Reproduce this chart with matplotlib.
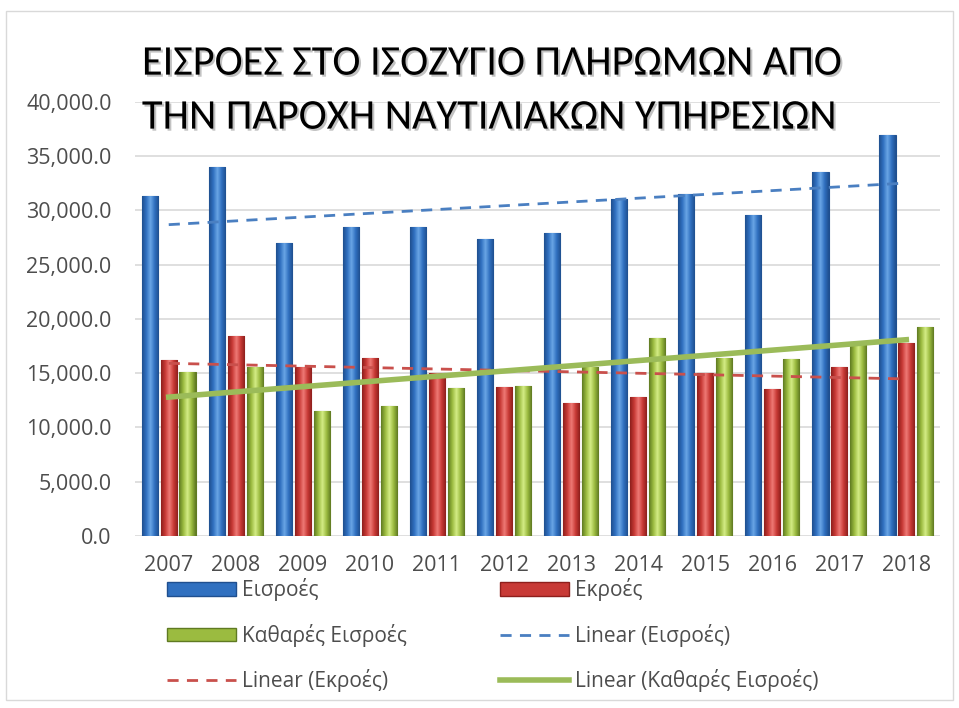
import numpy as np
import matplotlib
matplotlib.use('Agg')
import matplotlib.pyplot as plt
import matplotlib.patheffects as pe
from matplotlib.colors import LinearSegmentedColormap
from matplotlib.patches import Rectangle
from matplotlib.lines import Line2D
from matplotlib.ticker import FuncFormatter

plt.rcParams['font.family'] = ['Open Sans', 'DejaVu Sans']

# data
years = ['2007', '2008', '2009', '2010', '2011', '2012',
         '2013', '2014', '2015', '2016', '2017', '2018']
eisroes = [31300, 34000, 27000, 28500, 28500, 27400,
           27900, 31100, 31500, 29600, 33500, 37000]
ekroes = [16200, 18400, 15600, 16400, 15000, 13750,
          12250, 12800, 15000, 13500, 15600, 17800]
kathares = [15100, 15600, 11500, 12000, 13600, 13850,
            15600, 18200, 16400, 16300, 17900, 19250]

title = 'ΕΙΣΡΟΕΣ ΣΤΟ ΙΣΟΖΥΓΙΟ ΠΛΗΡΩΜΩΝ ΑΠΟ\nΤΗΝ ΠΑΡΟΧΗ ΝΑΥΤΙΛΙΑΚΩΝ ΥΠΗΡΕΣΙΩΝ'
names = ['Εισροές', 'Εκροές', 'Καθαρές Εισροές']

# (dark, mid, light) for the cylinder shading
blue = ('#1f4f8f', '#3070c0', '#6aa6e6')
red = ('#8e1f1c', '#c83a36', '#ef7a76')
green = ('#5f7a22', '#9bbb40', '#d4ec86')

fig = plt.figure(figsize=(9.59, 7.08), dpi=100)
fig.patches.append(Rectangle((0.006, 0.012), 0.988, 0.972, transform=fig.transFigure,
                             fill=False, edgecolor='#d9d9d9', lw=1))
ax = fig.add_axes([0.141, 0.243, 0.839, 0.613])

x = np.arange(len(years))
w = 0.24
off = 0.28

def shaded_bars(xpos, vals, cols):
    bars = ax.bar(xpos, vals, w, color=cols[1], edgecolor=cols[0], lw=0.8, zorder=2)
    cmap = LinearSegmentedColormap.from_list('c', [cols[0], cols[1], cols[2], cols[1], cols[0]])
    grad = np.linspace(0, 1, 64).reshape(1, -1)
    for b in bars:
        x0, y0 = b.get_x(), b.get_y()
        im = ax.imshow(grad, cmap=cmap, aspect='auto', zorder=2.1,
                       extent=(x0, x0 + b.get_width(), y0, y0 + b.get_height()))
        im.set_clip_path(b)
    return bars

shaded_bars(x - off, eisroes, blue)
shaded_bars(x, ekroes, red)
shaded_bars(x + off, kathares, green)

# linear trendlines
for vals, col, ls, lw in [(eisroes, '#4a7fc1', (0, (4, 3)), 2),
                          (ekroes, '#c9504c', (0, (4, 3)), 2),
                          (kathares, '#9bbb59', '-', 4)]:
    k, b0 = np.polyfit(x, vals, 1)
    ax.plot(x, k * x + b0, color=col, ls=ls, lw=lw, zorder=3)

ax.set_xlim(-0.5, 11.5)
ax.set_ylim(0, 40000)
ax.set_yticks(np.arange(0, 40001, 5000))
ax.yaxis.set_major_formatter(FuncFormatter(lambda v, p: f'{v:,.1f}'))
ax.set_xticks(x)
ax.set_xticklabels(years)
ax.grid(axis='y', color='#d9d9d9', lw=1.2, zorder=0)
ax.set_axisbelow(True)
for s in ax.spines.values():
    s.set_visible(False)
ax.tick_params(length=0, labelsize=15.5, colors='#4d4d4d', pad=14)
ax.tick_params(axis='y', pad=17)

fig.text(0.148, 0.872, title, fontsize=30.5, ha='left', va='center',
         linespacing=1.62, color='black', family=['Carlito', 'DejaVu Sans'],
         path_effects=[pe.withSimplePatchShadow(offset=(1.5, -1.5), shadow_rgbFace='#9a9a9a', alpha=0.6)])

handles = [Rectangle((0, 0), 1, 1, fc=blue[1], ec=blue[0]),
           Rectangle((0, 0), 1, 1, fc=red[1], ec=red[0]),
           Rectangle((0, 0), 1, 1, fc=green[1], ec=green[0]),
           Line2D([], [], color='#4a7fc1', ls=(0, (4, 3)), lw=2),
           Line2D([], [], color='#c9504c', ls=(0, (4, 3)), lw=2),
           Line2D([], [], color='#9bbb59', lw=4)]
labels = names + ['Linear (Εισροές)', 'Linear (Εκροές)', 'Linear (Καθαρές Εισροές)']
# order so that columns read row by row as in the reference
order = [0, 2, 4, 1, 3, 5]
fig.legend([handles[i] for i in order], [labels[i] for i in order],
           loc='upper left', bbox_to_anchor=(0.174, 0.183), ncol=2, frameon=False,
           fontsize=15, handlelength=3.3, handleheight=0.6, handletextpad=0.3,
           labelspacing=1.06, columnspacing=4.5, labelcolor='#4d4d4d',
           borderaxespad=0, borderpad=0)

fig.savefig('out.png', dpi=100)
